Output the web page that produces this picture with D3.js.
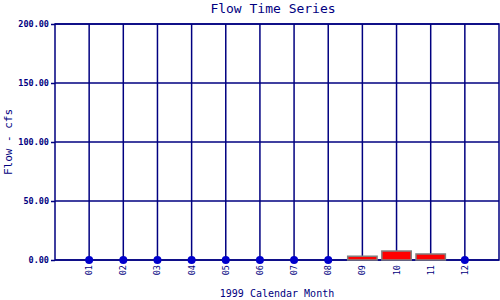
<!DOCTYPE html>
<html>
<head>
<meta charset="utf-8">
<script src="https://cdn.jsdelivr.net/npm/d3@7"></script>
<style>
  body { margin: 0; background: #fff; }
  text { font-family: "DejaVu Sans Mono", monospace; fill: #000080; }
</style>
</head>
<body>
<svg width="500" height="300"></svg>
<script>
var months = ["01", "02", "03", "04", "05", "06", "07", "08", "09", "10", "11", "12"]
var flow = [0, 0, 0, 0, 0, 0, 0, 0, 3.2, 7.6, 5.1, 0]
var yTicks = [0, 50, 100, 150, 200]

var svg = d3.select("svg")
var navy = "#000080"

var xScale = d3.scaleLinear().domain([0, 13]).range([55, 499])
var yScale = d3.scaleLinear().domain([0, 200]).range([260, 24])

// horizontal grid
svg.append("g").selectAll("line")
  .data(yTicks)
  .enter()
  .append("line")
  .attr("x1", xScale(0)).attr("x2", xScale(13))
  .attr("y1", function (d) { return yScale(d) })
  .attr("y2", function (d) { return yScale(d) })
  .style("stroke", navy).style("stroke-width", 1.5)

// vertical grid
svg.append("g").selectAll("line")
  .data(months)
  .enter()
  .append("line")
  .attr("x1", function (d, i) { return xScale(i + 1) })
  .attr("x2", function (d, i) { return xScale(i + 1) })
  .attr("y1", yScale(200)).attr("y2", yScale(0))
  .style("stroke", navy).style("stroke-width", 1.5)

// frame
svg.append("rect")
  .attr("x", xScale(0)).attr("y", yScale(200))
  .attr("width", xScale(13) - xScale(0))
  .attr("height", yScale(0) - yScale(200))
  .style("fill", "none").style("stroke", navy).style("stroke-width", 1.5)

var yAxis = d3.axisLeft(yScale)
  .tickValues(yTicks)
  .tickSize(4)
  .tickPadding(2)
  .tickFormat(d3.format(".2f"))
var yAxisG = svg.append("g").attr("transform", "translate(55,0)").call(yAxis)
yAxisG.select(".domain").remove()
yAxisG.selectAll("line").style("stroke", navy).style("stroke-width", 1.5)
yAxisG.selectAll("text")
  .style("font-family", "'DejaVu Sans Mono', monospace")
  .style("font-size", "8.5px").style("font-weight", "bold").style("fill", navy)

// x tick labels
svg.append("g").selectAll("text")
  .data(months)
  .enter()
  .append("text")
  .attr("transform", function (d, i) {
    return "translate(" + (xScale(i + 1) + 3) + ",265) rotate(-90)"
  })
  .attr("text-anchor", "end")
  .style("font-size", "8.5px")
  .text(function (d) { return d })

// bars for non-zero months
svg.append("g").selectAll("rect")
  .data(flow.map(function (v, i) { return { m: i + 1, v: v } }).filter(function (d) { return d.v > 0 }))
  .enter()
  .append("rect")
  .attr("x", function (d) { return xScale(d.m - 0.43) })
  .attr("y", function (d) { return yScale(d.v) })
  .attr("width", xScale(0.86) - xScale(0))
  .attr("height", function (d) { return yScale(0) - yScale(d.v) })
  .style("fill", "#ff0000").style("stroke", "#808080").style("stroke-width", 1.5)

// dots for zero months
svg.append("g").selectAll("circle")
  .data(flow.map(function (v, i) { return { m: i + 1, v: v } }).filter(function (d) { return d.v === 0 }))
  .enter()
  .append("circle")
  .attr("cx", function (d) { return xScale(d.m) })
  .attr("cy", function (d) { return yScale(d.v) })
  .attr("r", 4)
  .style("fill", "#0000cc")

svg.append("text")
  .attr("x", 273).attr("y", 13)
  .attr("text-anchor", "middle")
  .style("font-size", "13px")
  .text("Flow Time Series")

svg.append("text")
  .attr("x", 277).attr("y", 297)
  .attr("text-anchor", "middle")
  .style("font-size", "10px")
  .text("1999 Calendar Month")

svg.append("text")
  .attr("transform", "translate(12,142) rotate(-90)")
  .attr("text-anchor", "middle")
  .style("font-size", "11px")
  .text("Flow - cfs")
</script>
</body>
</html>
